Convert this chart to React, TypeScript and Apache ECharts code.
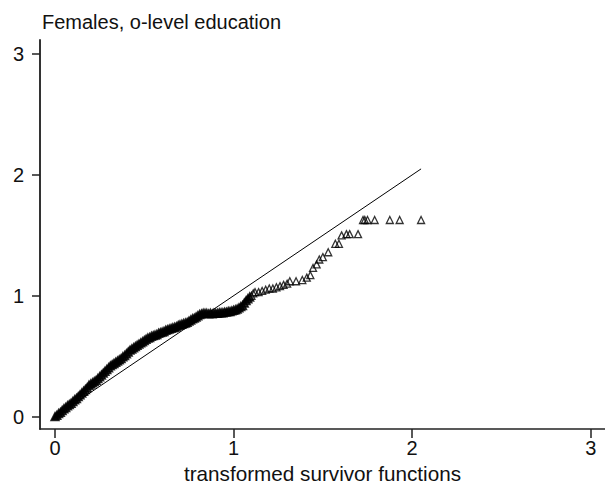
import React, { useEffect, useRef } from "react";
import * as echarts from "echarts";

const titleText = "Females, o-level education";
const xAxisTitle = "transformed survivor functions";
const tickValues = [0, 1, 2, 3];

// dense part of the transformed survivor function (x, y)
const densePoints: [number, number][] = [
  [0.0, 0.0], [0.01, 0.01], [0.02, 0.025], [0.03, 0.035], [0.04, 0.05], [0.05, 0.065],
  [0.06, 0.075], [0.07, 0.09], [0.08, 0.1], [0.09, 0.11], [0.1, 0.125], [0.11, 0.14],
  [0.12, 0.15], [0.13, 0.165], [0.14, 0.18], [0.15, 0.195], [0.16, 0.21], [0.17, 0.225],
  [0.18, 0.24], [0.19, 0.26], [0.2, 0.27], [0.21, 0.28], [0.22, 0.29], [0.23, 0.3],
  [0.24, 0.315], [0.25, 0.33], [0.26, 0.345], [0.27, 0.36], [0.28, 0.375], [0.29, 0.39],
  [0.3, 0.405], [0.31, 0.42], [0.32, 0.43], [0.33, 0.44], [0.34, 0.45], [0.35, 0.46],
  [0.36, 0.47], [0.37, 0.48], [0.38, 0.495], [0.39, 0.505], [0.4, 0.52], [0.41, 0.535],
  [0.42, 0.55], [0.43, 0.56], [0.44, 0.57], [0.45, 0.58], [0.46, 0.59], [0.47, 0.6],
  [0.48, 0.61], [0.49, 0.62], [0.5, 0.63], [0.51, 0.64], [0.52, 0.65], [0.53, 0.655],
  [0.54, 0.665], [0.55, 0.67], [0.56, 0.675], [0.57, 0.68], [0.58, 0.69], [0.59, 0.695],
  [0.6, 0.7], [0.61, 0.705], [0.62, 0.715], [0.63, 0.72], [0.64, 0.725], [0.65, 0.73],
  [0.66, 0.735], [0.67, 0.74], [0.68, 0.745], [0.69, 0.755], [0.7, 0.76], [0.71, 0.765],
  [0.72, 0.77], [0.73, 0.775], [0.74, 0.78], [0.75, 0.79], [0.76, 0.8], [0.77, 0.81],
  [0.78, 0.815], [0.79, 0.825], [0.8, 0.835], [0.81, 0.845], [0.82, 0.85], [0.83, 0.855],
  [0.84, 0.855], [0.85, 0.855], [0.86, 0.85], [0.87, 0.855], [0.88, 0.85], [0.89, 0.855],
  [0.9, 0.855], [0.91, 0.855], [0.92, 0.86], [0.93, 0.86], [0.94, 0.86], [0.95, 0.865],
  [0.96, 0.865], [0.97, 0.87], [0.98, 0.87], [0.99, 0.875], [1.0, 0.88], [1.01, 0.885],
  [1.02, 0.89], [1.03, 0.9], [1.04, 0.91], [1.05, 0.92], [1.06, 0.94], [1.07, 0.96],
  [1.08, 0.975], [1.09, 0.99],
];

// sparse upper tail
const tailPoints: [number, number][] = [
  [1.1, 1.0], [1.11, 1.02], [1.12, 1.03], [1.14, 1.03], [1.16, 1.04], [1.18, 1.05],
  [1.2, 1.06], [1.22, 1.06], [1.24, 1.07], [1.26, 1.08], [1.28, 1.09], [1.3, 1.1],
  [1.315, 1.12], [1.35, 1.12], [1.385, 1.13], [1.41, 1.15], [1.43, 1.17], [1.445, 1.23],
  [1.465, 1.26], [1.48, 1.3], [1.5, 1.32], [1.53, 1.36], [1.57, 1.43], [1.59, 1.43],
  [1.605, 1.5], [1.632, 1.51], [1.65, 1.51], [1.697, 1.51], [1.725, 1.627], [1.735, 1.627],
  [1.75, 1.627], [1.79, 1.627], [1.875, 1.627], [1.93, 1.627], [2.05, 1.627],
];

// 45-degree reference line
const refLine: [number, number][] = [
  [0, 0],
  [2.05, 2.05],
];

const FONT = "Liberation Sans, Arial, sans-serif";

export default function App() {
  const ref = useRef<HTMLDivElement>(null);
  useEffect(() => {
    if (!ref.current) return;
    const chart = echarts.init(ref.current, undefined, { renderer: "svg" });
    chart.setOption({
      animation: false,
      backgroundColor: "#fff",
      title: {
        text: titleText,
        left: 42,
        top: 12,
        padding: 0,
        textStyle: { fontFamily: FONT, fontSize: 20, fontWeight: "normal", color: "#111" },
      },
      grid: {
        left: 40,
        right: 0,
        top: 40,
        bottom: 56,
        containLabel: false,
        outerBoundsMode: "none",
      },
      xAxis: {
        type: "value",
        min: -0.084,
        max: 3.08,
        name: xAxisTitle,
        nameLocation: "middle",
        nameGap: 28,
        nameTextStyle: { fontFamily: FONT, fontSize: 20.7, color: "#111" },
        axisLine: { show: true, onZero: false, lineStyle: { color: "#222", width: 1.5 } },
        axisTick: { show: true, customValues: tickValues, length: 9, lineStyle: { color: "#222", width: 1.5 } },
        axisLabel: { customValues: tickValues, margin: 9, fontFamily: FONT, fontSize: 20, color: "#111" },
        splitLine: { show: false },
      },
      yAxis: {
        type: "value",
        min: -0.103,
        max: 3.117,
        axisLine: { show: true, onZero: false, lineStyle: { color: "#333", width: 2 } },
        axisTick: { show: true, customValues: tickValues, length: 8, lineStyle: { color: "#222", width: 1.5 } },
        axisLabel: { customValues: tickValues, margin: 16, fontFamily: FONT, fontSize: 20, color: "#111" },
        splitLine: { show: false },
      },
      series: [
        {
          type: "scatter",
          symbol: "triangle",
          symbolSize: 8,
          silent: true,
          itemStyle: { color: "#000", borderColor: "#000", borderWidth: 1.5 },
          data: densePoints,
        },
        {
          type: "scatter",
          symbol: "triangle",
          symbolSize: 7,
          silent: true,
          itemStyle: { color: "rgba(255,255,255,0)", borderColor: "#000", borderWidth: 1.3 },
          data: tailPoints,
        },
        {
          type: "line",
          data: refLine,
          symbol: "none",
          silent: true,
          lineStyle: { color: "#000", width: 1 },
        },
      ],
    });
    return () => chart.dispose();
  }, []);
  return <div ref={ref} style={{ position: "absolute", left: 0, top: 0, width: 605, height: 485 }} />;
}
